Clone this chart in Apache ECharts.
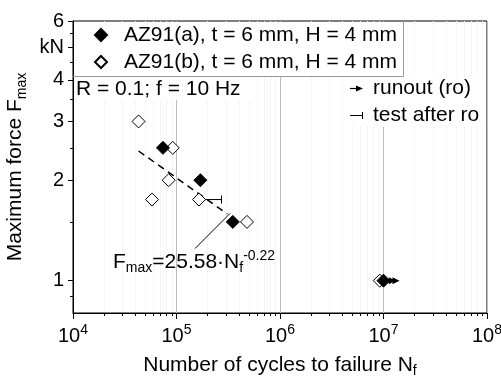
<!DOCTYPE html>
<html>
<head>
<meta charset="utf-8">
<script src="https://cdn.jsdelivr.net/npm/echarts@6/dist/echarts.min.js"></script>
<style>
  html, body { margin: 0; padding: 0; background: #fff; }
  #chart { width: 501px; height: 379px; }
</style>
</head>
<body>
<div id="chart"></div>
<script>
// Fatigue test results: cycles to failure vs. maximum force
const nameA = 'AZ91(a), t = 6 mm, H = 4 mm';
const nameB = 'AZ91(b), t = 6 mm, H = 4 mm';
const seriesA = [[7.4e4, 2.5], [1.7e5, 2.0], [3.5e5, 1.5], [1.0e7, 1.0]];
const seriesB = [[4.3e4, 3.0], [9.2e4, 2.5], [8.4e4, 2.0], [5.8e4, 1.75], [1.65e5, 1.75], [4.8e5, 1.5], [9.2e6, 1.0]];
const runouts = [[9.2e6, 1.0], [1.0e7, 1.0]];
const testsAfterRunout = [[1.65e5, 1.75]];
// Basquin fit F = C * N^k
const fitCoef = 25.58;
const fitExp = -0.22;
const fitRange = [4.3e4, 3.1e5];
const leaderLine = [[1.51e5, 1.248], [3.29e5, 1.59]];
const xTicks = [1e4, 1e5, 1e6, 1e7, 1e8];
const yTicks = [1, 2, 3, 4, 5, 6];
const yTickText = { 5: 'kN' };
const yMinorTicks = [0.9, 1.5, 2.5, 3.5, 4.5, 5.5];

const FONT = '"Liberation Sans", Arial, sans-serif';

const fitLine = fitRange.map(n => [n, fitCoef * Math.pow(n, fitExp)]);

const xMinorTicks = [];
for (let d = 4; d < 8; d++) {
  for (let k = 2; k <= 9; k++) xMinorTicks.push(k * Math.pow(10, d));
}

const chart = echarts.init(document.getElementById('chart'), null, { renderer: 'canvas' });

const axisLineStyle = { color: '#000', width: 1 };
const subStyle = { fontFamily: FONT, fontSize: 14, color: '#000', verticalAlign: 'bottom', lineHeight: 8 };

chart.setOption({
  animation: false,
  backgroundColor: '#fff',
  grid: {
    left: 73, right: 14, top: 21, bottom: 66, containLabel: false, outerBoundsMode: 'none',
    show: true, borderColor: '#000', borderWidth: 1, backgroundColor: 'transparent'
  },
  xAxis: [
    {
      type: 'log', logBase: 10, min: 1e4, max: 1e8, position: 'bottom',
      name: '{b|Number of cycles to failure N}{s|f}', nameLocation: 'middle', nameGap: 39,
      nameTextStyle: {
        color: '#000', fontFamily: FONT, fontSize: 21,
        rich: { b: { fontFamily: FONT, fontSize: 21, color: '#000', lineHeight: 26 }, s: subStyle }
      },
      axisLine: { show: true, lineStyle: axisLineStyle },
      axisTick: { show: true, inside: false, length: 6, customValues: xTicks, lineStyle: axisLineStyle },
      axisLabel: {
        customValues: xTicks, margin: 10,
        formatter: v => '{b|10}{s|' + Math.round(Math.log10(v)) + '}',
        rich: {
          b: { fontFamily: FONT, fontSize: 20, color: '#000', lineHeight: 26 },
          s: { fontFamily: FONT, fontSize: 14, color: '#000', lineHeight: 12, verticalAlign: 'top' }
        }
      },
      splitLine: { show: true, lineStyle: { color: '#bdbdbd', width: 1 } }
    },
    {
      type: 'log', logBase: 10, min: 1e4, max: 1e8, position: 'bottom',
      axisLine: { show: false },
      axisTick: { show: true, inside: false, length: 3, customValues: xMinorTicks, lineStyle: axisLineStyle },
      axisLabel: { show: false },
      splitLine: { show: true, lineStyle: { color: '#ececec', width: 1, type: 'dotted' } }
    }
  ],
  yAxis: [
    {
      type: 'log', logBase: 10, min: 0.8, max: 6, position: 'left',
      name: '{b|Maximum force F}{s|max}', nameLocation: 'middle', nameGap: 39, nameRotate: 90,
      nameTextStyle: {
        color: '#000', fontFamily: FONT, fontSize: 21,
        rich: { b: { fontFamily: FONT, fontSize: 21, color: '#000', lineHeight: 26 }, s: subStyle }
      },
      axisLine: { show: true, lineStyle: axisLineStyle },
      axisTick: { show: true, inside: false, length: 5, customValues: yTicks, lineStyle: axisLineStyle },
      axisLabel: {
        customValues: yTicks, margin: 9, color: '#000', fontFamily: FONT, fontSize: 20,
        formatter: v => yTickText[Math.round(v)] || String(Math.round(v))
      },
      splitLine: { show: false }
    },
    {
      type: 'log', logBase: 10, min: 0.8, max: 6, position: 'left',
      axisLine: { show: false },
      axisTick: { show: true, inside: false, length: 3, customValues: yMinorTicks, lineStyle: axisLineStyle },
      axisLabel: { show: false },
      splitLine: { show: false }
    }
  ],
  legend: {
    orient: 'vertical', left: 94, top: 23, padding: 0, itemGap: 3,
    itemWidth: 12, itemHeight: 12,
    data: [nameA, nameB],
    formatter: n => '{g|}' + n,
    textStyle: {
      color: '#000', fontFamily: FONT, fontSize: 21, lineHeight: 24,
      rich: { g: { width: 12 } }
    }
  },
  graphic: [
    // legend frame (right and bottom edges sit inside the plot)
    { type: 'rect', z: 3, shape: { x: 74, y: 22, width: 329, height: 54 }, style: { fill: '#fff' } },
    { type: 'polyline', z: 3, shape: { points: [[403.5, 21], [403.5, 76.5], [73, 76.5]] }, style: { stroke: '#9a9a9a', lineWidth: 1, fill: null } },
    // test condition
    { type: 'rect', z: 3, shape: { x: 74, y: 77, width: 180, height: 23 }, style: { fill: '#fff' } },
    { type: 'text', z: 4, x: 76, y: 89, style: { text: 'R = 0.1; f = 10 Hz', font: '21px ' + FONT, fill: '#000', verticalAlign: 'middle' } },
    // runout key
    { type: 'rect', z: 3, shape: { x: 346, y: 77, width: 140, height: 50 }, style: { fill: '#fff' } },
    { type: 'line', z: 4, shape: { x1: 350, y1: 88.5, x2: 357, y2: 88.5 }, style: { stroke: '#000', lineWidth: 1.2 } },
    { type: 'polygon', z: 4, shape: { points: [[363, 88.5], [356, 85.5], [356, 91.5]] }, style: { fill: '#000' } },
    { type: 'text', z: 4, x: 373, y: 88, style: { text: 'runout (ro)', font: '21px ' + FONT, fill: '#000', verticalAlign: 'middle' } },
    { type: 'line', z: 4, shape: { x1: 350, y1: 115.5, x2: 362, y2: 115.5 }, style: { stroke: '#000', lineWidth: 1 } },
    { type: 'line', z: 4, shape: { x1: 362.5, y1: 112, x2: 362.5, y2: 119 }, style: { stroke: '#000', lineWidth: 1 } },
    { type: 'text', z: 4, x: 373, y: 115, style: { text: 'test after ro', font: '21px ' + FONT, fill: '#000', verticalAlign: 'middle' } },
    // fit equation
    {
      type: 'text', z: 4, x: 113, y: 249.5,
      style: {
        text: '{b|F}{sub|max}{b|=' + fitCoef.toFixed(2) + '·N}{sub|f}{sup|' + fitExp.toFixed(2) + '}',
        verticalAlign: 'top',
        rich: {
          b: { fontFamily: FONT, fontSize: 21, fill: '#000', lineHeight: 26 },
          sub: { fontFamily: FONT, fontSize: 14, fill: '#000', lineHeight: 8, verticalAlign: 'bottom' },
          sup: { fontFamily: FONT, fontSize: 14, fill: '#000', lineHeight: 14, verticalAlign: 'top' }
        }
      }
    }
  ],
  series: [
    {
      name: 'fit', type: 'line', data: fitLine, symbol: 'none', z: 2,
      lineStyle: { color: '#000', width: 1.5, type: [7, 5] }
    },
    {
      name: 'leader', type: 'line', data: leaderLine, symbol: 'none', z: 2,
      lineStyle: { color: '#000', width: 1 }
    },
    {
      name: 'runout', type: 'custom', data: runouts, z: 2,
      renderItem: (params, api) => {
        const p = api.coord([api.value(0), api.value(1)]);
        const L = 16, head = 7, hw = 3.5;
        return {
          type: 'group',
          children: [
            { type: 'line', shape: { x1: p[0], y1: p[1], x2: p[0] + L - head + 1, y2: p[1] }, style: { stroke: '#000', lineWidth: 1.5 } },
            { type: 'polygon', shape: { points: [[p[0] + L, p[1]], [p[0] + L - head, p[1] - hw], [p[0] + L - head, p[1] + hw]] }, style: { fill: '#000' } }
          ]
        };
      }
    },
    {
      name: 'after runout', type: 'custom', data: testsAfterRunout, z: 2,
      renderItem: (params, api) => {
        const p = api.coord([api.value(0), api.value(1)]);
        const L = 22;
        return {
          type: 'group',
          children: [
            { type: 'line', shape: { x1: p[0], y1: p[1], x2: p[0] + L, y2: p[1] }, style: { stroke: '#000', lineWidth: 1 } },
            { type: 'line', shape: { x1: p[0] + L + 0.5, y1: p[1] - 4, x2: p[0] + L + 0.5, y2: p[1] + 4 }, style: { stroke: '#000', lineWidth: 1 } }
          ]
        };
      }
    },
    {
      name: nameB, type: 'scatter', data: seriesB, z: 3,
      symbol: 'diamond', symbolSize: 13,
      itemStyle: { color: '#fff', borderColor: '#000', borderWidth: 1, opacity: 1 }
    },
    {
      name: nameA, type: 'scatter', data: seriesA, z: 4,
      symbol: 'diamond', symbolSize: 13,
      itemStyle: { color: '#000', borderColor: '#000', borderWidth: 1, opacity: 1 }
    }
  ]
});
</script>
</body>
</html>
